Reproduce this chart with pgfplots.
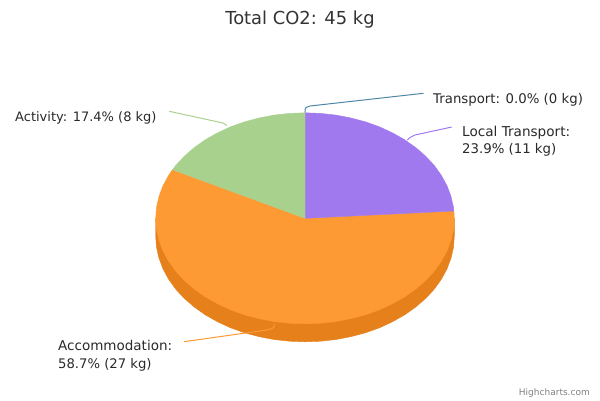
\documentclass[border=0pt]{standalone}
\usepackage{pgfplots}
\pgfplotsset{compat=1.18}
\usepackage{fontspec}
\setmainfont{DejaVu Sans}
\definecolor{lt}{HTML}{A179EE}
\definecolor{acc}{HTML}{FE9A33}
\definecolor{acs}{HTML}{E5801B}
\definecolor{act}{HTML}{A9D18E}
\definecolor{tra}{HTML}{4F86A8}
\definecolor{txt}{HTML}{333333}
\begin{document}
\begin{tikzpicture}
\path[use as bounding box] (0,0) rectangle (600pt,400pt);
\begin{axis}[
  at={(0,0)}, anchor=south west,
  x=1pt, y=1pt,
  xmin=0, xmax=600, ymin=0, ymax=400,
  y dir=reverse,
  hide axis, clip=false,
  every axis plot/.append style={no markers, line join=round},
]
% side of the pie
\addplot[fill=acs, draw=acs, line width=0.4pt] coordinates {
(454.3,218.3)(454.3,236.3)(453.5,247.3)(451.0,258.2)(447.0,268.9)(441.4,279.2)(434.3,289.1)(425.8,298.3)(415.9,306.9)(404.9,314.7)(392.8,321.6)(379.7,327.7)(365.7,332.7)(351.1,336.6)(336.0,339.5)(320.6,341.2)(305.0,341.8)(289.4,341.2)(274.0,339.5)(258.9,336.6)(244.3,332.7)(230.3,327.7)(217.2,321.6)(205.1,314.7)(194.1,306.9)(184.2,298.3)(175.7,289.1)(168.6,279.2)(163.0,268.9)(159.0,258.2)(156.5,247.3)(155.7,236.3)(155.7,218.3)
} --cycle;
% Accommodation 58.7%
\addplot[fill=acc, draw=acc, line width=0.4pt] coordinates {
(305.0,218.3)(453.9,211.0)(454.3,218.3)(453.5,229.3)(451.0,240.2)(447.0,250.9)(441.4,261.2)(434.3,271.1)(425.8,280.3)(415.9,288.9)(404.9,296.7)(392.8,303.6)(379.7,309.7)(365.7,314.7)(351.1,318.6)(336.0,321.5)(320.6,323.2)(305.0,323.8)(289.4,323.2)(274.0,321.5)(258.9,318.6)(244.3,314.7)(230.3,309.7)(217.2,303.6)(205.1,296.7)(194.1,288.9)(184.2,280.3)(175.7,271.1)(168.6,261.2)(163.0,250.9)(159.0,240.2)(156.5,229.3)(155.7,218.3)(156.5,207.3)(159.0,196.4)(163.0,185.7)(168.6,175.4)(172.5,169.7)
} --cycle;
% Local Transport 23.9%
\addplot[fill=lt, draw=lt, line width=0.4pt] coordinates {
(305.0,218.3)(305.0,112.8)(320.6,113.4)(336.0,115.1)(351.1,118.0)(365.7,121.9)(379.7,126.9)(392.8,133.0)(404.9,139.9)(415.9,147.7)(425.8,156.3)(434.3,165.5)(441.4,175.4)(447.0,185.7)(451.0,196.4)(453.5,207.3)(453.9,211.0)
} --cycle;
% Activity 17.4%
\addplot[fill=act, draw=act, line width=0.4pt] coordinates {
(305.0,218.3)(172.5,169.7)(175.7,165.5)(184.2,156.3)(194.1,147.7)(205.1,139.9)(217.2,133.0)(230.3,126.9)(244.3,121.9)(258.9,118.0)(274.0,115.1)(289.4,113.4)(305.0,112.8)
} --cycle;
% connectors
\addplot[tra, line width=1pt] coordinates {(305,112.5)(305,109.5)(306,107.5)(310,106)(423.5,93.3)};
\addplot[lt, line width=1pt] coordinates {(407.3,140)(410,137.5)(415,135)(451.7,127)};
\addplot[acc, line width=1pt] coordinates {(274,323.5)(274,327)(272,328.6)(266.7,330)(184,341.7)};
\addplot[act, line width=1pt] coordinates {(226.7,126)(225.5,124.5)(223,123)(169.3,111.3)};
% texts
\node[anchor=base, text=txt, font=\fontsize{17.9}{20}\selectfont] at (axis cs:300,24) {Total CO2: 45 kg};
\node[anchor=base west, inner sep=0pt, text=txt!80!black, font=\fontsize{13.3}{15}\selectfont] at (axis cs:433,103) {Transport: 0.0\% (0 kg)};
\node[anchor=base west, inner sep=0pt, text=txt!80!black, font=\fontsize{13.6}{15}\selectfont] at (axis cs:462,136) {Local Transport:};
\node[anchor=base west, inner sep=0pt, text=txt!80!black, font=\fontsize{13.3}{15}\selectfont] at (axis cs:462,153) {23.9\% (11 kg)};
\node[anchor=base west, inner sep=0pt, text=txt!80!black, font=\fontsize{13}{15}\selectfont] at (axis cs:15,121) {Activity: 17.4\% (8 kg)};
\node[anchor=base west, inner sep=0pt, text=txt!80!black, font=\fontsize{13.5}{15}\selectfont] at (axis cs:58,350) {Accommodation:};
\node[anchor=base west, inner sep=0pt, text=txt!80!black, font=\fontsize{13.2}{15}\selectfont] at (axis cs:58,368) {58.7\% (27 kg)};
\node[anchor=base east, inner sep=0pt, text=black!50, font=\fontsize{9}{11}\selectfont] at (axis cs:590,395.5) {Highcharts.com};
\end{axis}
\end{tikzpicture}
\end{document}
